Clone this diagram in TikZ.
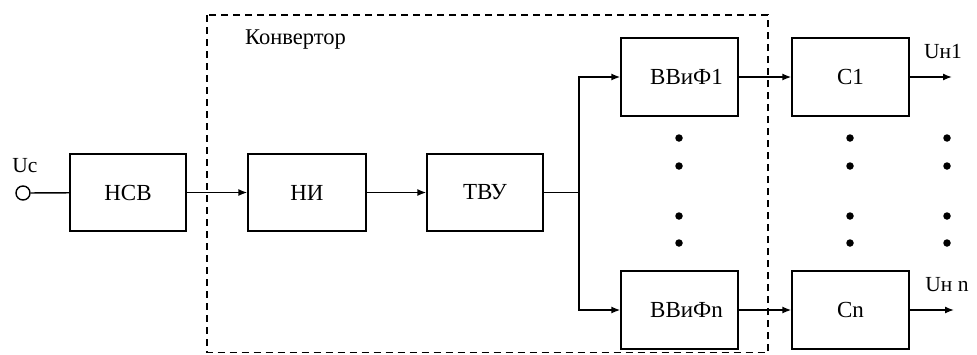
\documentclass[tikz,border=0pt]{standalone}
\usepackage{fontspec}
\setmainfont{Liberation Serif}
\usetikzlibrary{arrows.meta}
\begin{document}
\begin{tikzpicture}[x=1pt,y=-1pt,
  blk/.style={draw, line width=1.4pt, minimum width=117pt, minimum height=77pt, inner sep=0pt, font=\fontsize{23}{23}\selectfont},
  conn/.style={line width=1.4pt},
  arr/.style={conn, -{Latex[length=9pt,width=7pt]}},
  lbl/.style={font=\fontsize{21.5}{21.5}\selectfont, inner sep=0pt},
  dotm/.style={circle, fill=black, inner sep=0pt, minimum size=7.5pt}]
\useasboundingbox (0,0) rectangle (977,354);
\draw[line width=1.3pt, dash pattern=on 7pt off 5pt] (207,15) rectangle (768,352.5);
\node[lbl, anchor=west, font=\fontsize{22.5}{22.5}\selectfont] (konv) at (245,40) {Конвертор};
\node[draw, circle, line width=1.4pt, minimum size=14pt, inner sep=0pt] (in) at (23,193) {};
\node[lbl] (uc) at (25,166) {Uc};
\node[blk, minimum width=116pt] (nsv) at (128,192.5) {НСВ};
\node[blk, minimum width=118pt] (ni) at (307,192.5) {НИ};
\node[blk, minimum width=116pt] (tvu) at (485,192.5) {ТВУ};
\node[blk, minimum height=78pt] (v1) at (679.5,77) {\hspace*{14pt}ВВиФ1};
\node[blk, minimum height=78pt] (c1) at (850.5,77) {С1};
\node[blk, minimum height=78pt] (vn) at (679.5,310) {\hspace*{14pt}ВВиФn};
\node[blk, minimum height=78pt] (cn) at (850.5,310) {Сn};
\coordinate (j) at (579,192.5);
\coordinate (o1) at (952,77);
\coordinate (on) at (954,310);
\draw[conn] (in) -- (nsv);
\draw[arr] (nsv) -- (ni);
\draw[arr] (ni) -- (tvu);
\draw[conn] (tvu) -- (j);
\draw[arr] (j) |- (v1.west);
\draw[arr] (j) |- (vn.west);
\draw[arr] (v1) -- (c1);
\draw[arr] (vn) -- (cn);
\draw[arr] (c1) -- (o1);
\draw[arr] (cn) -- (on);
\node[lbl] (un1) at (943,52) {Uн1};
\node[lbl] (unn) at (947,285) {Uн n};
\foreach \c [count=\i] in {679,850,947} {
  \foreach \r [count=\k] in {138,166,216,243} {
    \node[dotm] (d\i\k) at (\c,\r) {};
  }
}
\end{tikzpicture}
\end{document}
